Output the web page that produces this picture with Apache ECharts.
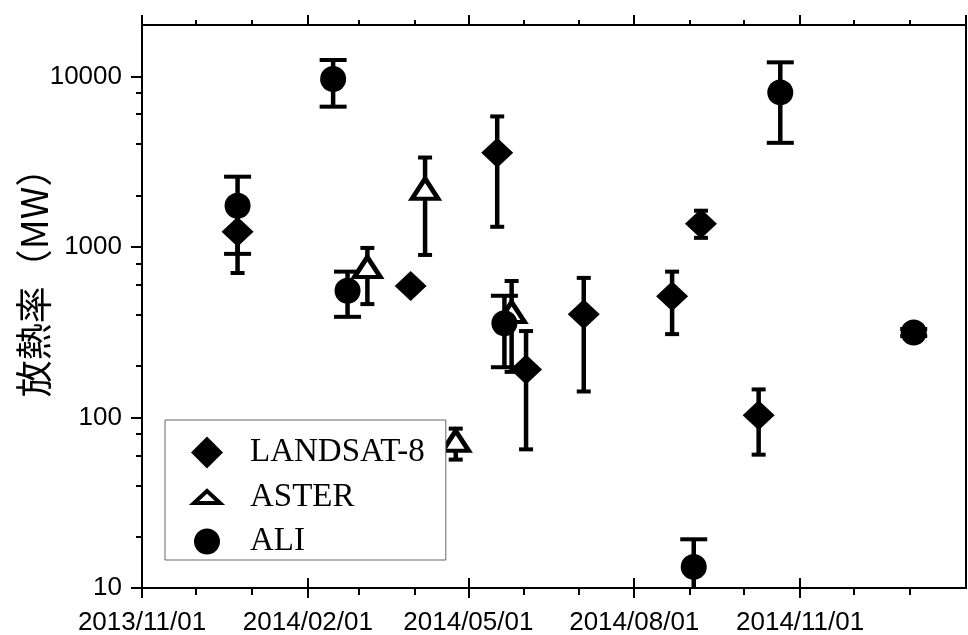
<!DOCTYPE html>
<html>
<head>
<meta charset="utf-8">
<script src="https://cdn.jsdelivr.net/npm/echarts@6/dist/echarts.min.js"></script>
<style>
html,body{margin:0;padding:0;background:#fff;}
#chart{width:968px;height:635px;}
</style>
</head>
<body>
<div id="chart"></div>
<script>
// ---- data ----
const landsatDates = ['2013-12-24','2014-03-30','2014-05-17','2014-06-02','2014-07-04','2014-08-22','2014-09-07','2014-10-09'];
const landsatValues = [1225, 590, 3570, 191, 403, 513, 1366, 103];
const landsatLow = [703, null, 1312, 65, 142, 308, 1130, 60.5];
const landsatHigh = [1700, null, 5820, 321, 658, 716, 1630, 146];

const asterDates = ['2014-03-06','2014-04-07','2014-04-24','2014-05-25'];
const asterValues = [762, 2194, 73, 415];
const asterLow = [462, 897, 56.6, 185];
const asterHigh = [986, 3342, 86, 631];

const aliDates = ['2013-12-24','2014-02-15','2014-02-23','2014-05-21','2014-09-03','2014-10-21','2015-01-03'];
const aliValues = [1742, 9640, 553, 357, 13.3, 8050, 315];
const aliLow = [910, 6640, 389, 197, 8, 4075, 300];
const aliHigh = [2580, 12470, 716, 517, 19.3, 12080, 330];

const xMinDate = '2013-11-01';
const xMaxDate = '2015-02-01';
const xLabelDates = ['2013-11-01','2014-02-01','2014-05-01','2014-08-01','2014-11-01'];
const xTopMajorDates = ['2013-11-01','2014-02-01','2014-05-01','2014-08-01','2014-11-01','2015-02-01'];
const xMinorDates = ['2013-12-01','2014-01-01','2014-03-01','2014-04-01','2014-06-01','2014-07-01','2014-09-01','2014-10-01','2014-12-01','2015-01-01'];
const yMajorTicks = [10, 100, 1000, 10000];
const yMinorTicks = [20, 40, 60, 80, 200, 400, 600, 800, 2000, 4000, 6000, 8000];
const yMin = 10, yMax = 20000;
const seriesNames = ['LANDSAT-8', 'ASTER', 'ALI'];
const yTitle = '放熱率（MW）';

// ---- helpers ----
function toTime(s) { const p = s.split('-').map(Number); return new Date(p[0], p[1]-1, p[2]).getTime(); }
function pts(dates, vals) { return dates.map((d, i) => [toTime(d), vals[i]]); }
function bars(dates, lo, hi) {
  const out = [];
  dates.forEach((d, i) => { if (lo[i] != null && hi[i] != null) out.push([toTime(d), lo[i], hi[i]]); });
  return out;
}
function pad(n) { return (n < 10 ? '0' : '') + n; }
function fmtDate(v) { const d = new Date(v); return d.getFullYear() + '/' + pad(d.getMonth()+1) + '/' + pad(d.getDate()); }

const tickFont = "'Liberation Sans', Arial, sans-serif";
const LW = 2;

function errRender(capW) {
  return function (params, api) {
    const x = api.value(0), lo = api.value(1), hi = api.value(2);
    const a = api.coord([x, hi]);
    const b = api.coord([x, lo]);
    const h = capW / 2;
    const st = { stroke: '#000', lineWidth: 4.5, lineCap: 'butt' };
    const cs = { stroke: '#000', lineWidth: 4, lineCap: 'butt' };
    return {
      type: 'group',
      children: [
        { type: 'line', shape: { x1: a[0], y1: a[1], x2: b[0], y2: b[1] }, style: st },
        { type: 'line', shape: { x1: a[0]-h, y1: a[1], x2: a[0]+h, y2: a[1] }, style: cs },
        { type: 'line', shape: { x1: b[0]-h, y1: b[1], x2: b[0]+h, y2: b[1] }, style: cs }
      ]
    };
  };
}

const xMin = toTime(xMinDate), xMax = toTime(xMaxDate);
const xLabelT = xLabelDates.map(toTime);
const xTopT = xTopMajorDates.map(toTime);
const xMinorT = xMinorDates.map(toTime);

function xBase(pos) {
  return {
    type: 'value', position: pos, min: xMin, max: xMax, scale: true,
    axisLine: { show: false, onZero: false },
    axisTick: { show: false },
    axisLabel: { show: false },
    splitLine: { show: false },
    minorTick: { show: false }
  };
}
function yBase(pos) {
  return {
    type: 'log', logBase: 10, position: pos, min: yMin, max: yMax,
    axisLine: { show: false, onZero: false },
    axisTick: { show: false },
    axisLabel: { show: false },
    splitLine: { show: false }
  };
}

const x0 = xBase('bottom');
x0.axisLine = { show: true, onZero: false, lineStyle: { color: '#000', width: LW } };
x0.axisTick = { show: true, length: 10, lineStyle: { color: '#000', width: LW }, customValues: xLabelT };
x0.axisLabel = { show: true, customValues: xLabelT, formatter: v => fmtDate(v), color: '#000', fontSize: 26, fontFamily: tickFont, margin: 22, hideOverlap: false };

const x1 = xBase('bottom');
x1.axisTick = { show: true, inside: true, length: 10, lineStyle: { color: '#000', width: LW }, customValues: xLabelT };

const x2 = xBase('bottom');
x2.axisTick = { show: true, length: 7, lineStyle: { color: '#000', width: LW }, customValues: xMinorT };

const x3 = xBase('top');
x3.axisLine = { show: true, onZero: false, lineStyle: { color: '#000', width: LW } };
x3.axisTick = { show: true, length: 10, lineStyle: { color: '#000', width: LW }, customValues: xTopT };

const x4 = xBase('top');
x4.axisTick = { show: true, length: 5, lineStyle: { color: '#000', width: LW }, customValues: xMinorT };

const y0 = yBase('left');
y0.axisLine = { show: true, onZero: false, lineStyle: { color: '#000', width: LW } };
y0.axisTick = { show: true, length: 11, lineStyle: { color: '#000', width: LW }, customValues: yMajorTicks };
y0.axisLabel = { show: true, customValues: yMajorTicks, formatter: v => String(Math.round(v)), color: '#000', fontSize: 26, fontFamily: tickFont, margin: 20 };
y0.name = yTitle;
y0.nameLocation = 'middle';
y0.nameGap = 90;
y0.nameMoveOverlap = false;
y0.nameTextStyle = { fontSize: 37, fontFamily: "'Noto Sans CJK JP', sans-serif", color: '#000', padding: [0, 0, 0, 66] };

const y1 = yBase('left');
y1.axisTick = { show: true, length: 6, lineStyle: { color: '#000', width: LW }, customValues: yMinorTicks };

const y2 = yBase('right');
y2.axisLine = { show: true, onZero: false, lineStyle: { color: '#000', width: LW } };

// legend icon shapes (bounding box 32x32 kept by near-zero-length corner segments)
const triIcon = 'path://M0,0L0.01,0M32,32L31.99,32M16,10L29,22L3,22Z';
const circIcon = 'path://M0,0L0.01,0M32,32L31.99,32M3,16A13,13,0,1,0,29,16A13,13,0,1,0,3,16Z';

const chart = echarts.init(document.getElementById('chart'), null, { renderer: 'canvas' });
chart.setOption({
  animation: false,
  backgroundColor: '#fff',
  grid: { left: 142, right: 2, top: 25, bottom: 47, containLabel: false, outerBoundsMode: 'none' },
  legend: {
    orient: 'vertical', left: 165, top: 420,
    itemWidth: 32, itemHeight: 32, itemGap: 10,
    padding: [16, 21, 2, 24],
    borderColor: '#666', borderWidth: 1, backgroundColor: '#fff',
    textStyle: { fontFamily: "'Liberation Serif', 'Times New Roman', serif", fontSize: 33, color: '#000', padding: [0, 0, 0, 22] },
    data: [
      { name: seriesNames[0] },
      { name: seriesNames[1], icon: triIcon, itemStyle: { borderWidth: 4, borderColor: '#000', color: '#fff', opacity: 1 } },
      { name: seriesNames[2], icon: circIcon }
    ]
  },
  xAxis: [x0, x1, x2, x3, x4],
  yAxis: [y0, y1, y2],
  series: [
    { name: seriesNames[0], type: 'scatter', xAxisIndex: 0, yAxisIndex: 0, z: 3,
      symbol: 'diamond', symbolSize: [32, 30], itemStyle: { color: '#000', opacity: 1 },
      data: pts(landsatDates, landsatValues) },
    { name: seriesNames[1], type: 'scatter', xAxisIndex: 0, yAxisIndex: 0, z: 3,
      symbol: 'triangle', symbolSize: [26, 20], itemStyle: { color: '#fff', borderColor: '#000', borderWidth: 4.5, opacity: 1 },
      data: pts(asterDates, asterValues) },
    { name: seriesNames[2], type: 'scatter', xAxisIndex: 0, yAxisIndex: 0, z: 3,
      symbol: 'circle', symbolSize: 26, itemStyle: { color: '#000', opacity: 1 },
      data: pts(aliDates, aliValues) },
    { name: seriesNames[0], type: 'custom', xAxisIndex: 0, yAxisIndex: 0, z: 1, clip: true,
      renderItem: errRender(14), encode: { x: 0, y: [1, 2] }, data: bars(landsatDates, landsatLow, landsatHigh) },
    { name: seriesNames[1], type: 'custom', xAxisIndex: 0, yAxisIndex: 0, z: 1, clip: true,
      renderItem: errRender(14), encode: { x: 0, y: [1, 2] }, data: bars(asterDates, asterLow, asterHigh) },
    { name: seriesNames[2], type: 'custom', xAxisIndex: 0, yAxisIndex: 0, z: 1, clip: true,
      renderItem: errRender(27), encode: { x: 0, y: [1, 2] }, data: bars(aliDates, aliLow, aliHigh) }
  ]
});
</script>
</body>
</html>
